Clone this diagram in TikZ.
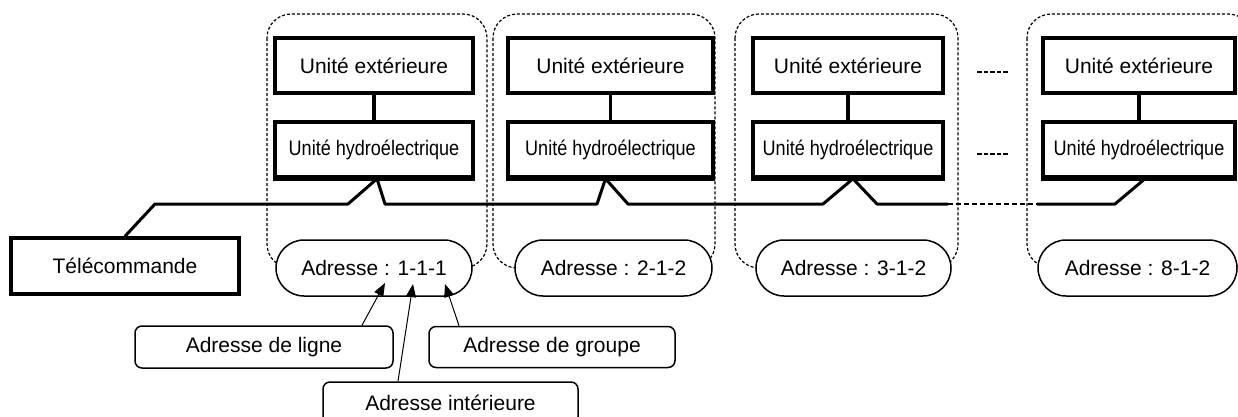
\documentclass[tikz,border=0pt]{standalone}
\usepackage{fontspec}
\setmainfont{Liberation Sans}
\usepackage{graphicx}
\usetikzlibrary{arrows.meta,calc}
\begin{document}
\begin{tikzpicture}[x=1pt,y=-1pt,
  txt/.style={font=\fontsize{21}{25}\selectfont},
  unitbox/.style={txt,draw,fill=white,line width=3.5pt,minimum height=55pt,inner sep=0pt},
  linkln/.style={line width=3.5pt},
  pillbox/.style={txt,draw,fill=white,line width=1.5pt,rounded corners=28pt,minimum height=56pt,inner sep=0pt},
  grpbox/.style={line width=1.2pt,dash pattern=on 3pt off 2pt,rounded corners=24pt},
  busln/.style={line width=3pt,line join=round},
  busdash/.style={line width=2pt,dash pattern=on 5pt off 3pt},
  sepdash/.style={line width=2pt,dash pattern=on 4.5pt off 2pt},
  lblbox/.style={txt,draw,fill=white,line width=1.5pt,rounded corners=7pt,inner sep=0pt},
  ptr/.style={line width=1pt,-{Triangle[length=13pt,width=10pt]}},
]
\useasboundingbox (0,0) rectangle (1238,416);
\clip (0,0) rectangle (1238,416);
\fill[white] (0,0) rectangle (1238,416);

% group outlines
\draw[grpbox] (267,14) rectangle (487,268);
\draw[grpbox] (493,14) rectangle (715,268);
\draw[grpbox] (735,14) rectangle (958,268);
\draw[grpbox] (1027,14) rectangle (1252,268);

% remote
\node[unitbox,minimum width=228pt,minimum height=56pt] (tele) at (125,266) {Télécommande};

% units
\node[unitbox,minimum width=198pt] (e1) at (374,65.5) {Unité extérieure};
\node[unitbox,minimum width=198pt] (h1) at (374,149.5) {\scalebox{0.86}[1]{Unité hydroélectrique}};
\node[unitbox,minimum width=205pt] (e2) at (610.5,65.5) {Unité extérieure};
\node[unitbox,minimum width=205pt] (h2) at (610.5,149.5) {\scalebox{0.86}[1]{Unité hydroélectrique}};
\node[unitbox,minimum width=190pt] (e3) at (848,65.5) {Unité extérieure};
\node[unitbox,minimum width=190pt] (h3) at (848,149.5) {\scalebox{0.86}[1]{Unité hydroélectrique}};
\node[unitbox,minimum width=192pt] (e4) at (1139,65.5) {Unité extérieure};
\node[unitbox,minimum width=192pt] (h4) at (1139,149.5) {\scalebox{0.86}[1]{Unité hydroélectrique}};

\foreach \i in {1,2,3,4} \draw[linkln] (e\i.south) -- (h\i.north);

% bus
\coordinate (c1) at ($(h1.south)+(3,0)$);
\coordinate (c2) at ($(h2.south)+(-5,0)$);
\coordinate (c3) at ($(h3.south)+(5,0)$);
\coordinate (c4) at ($(h4.south)+(6,0)$);
\coordinate (ds) at (948,204);
\coordinate (de) at (1037,204);
\draw[busln] (tele.north) -- (155,204) -- (348,204) -- (c1) -- (385,204) -- (597,204) -- (c2)
  -- (628,204) -- (823,204) -- (c3) -- (877,204) -- (ds);
\draw[busdash] (ds) -- (de);
\draw[busln] (de) -- (1115,204) -- (c4);
% keep the unit boxes' lower edges crisp over the bus peaks
\foreach \i in {1,2,3,4} \draw[line width=3.5pt] (h\i.south west) -- (h\i.south east);

% separators
\coordinate (s1a) at (977,72); \coordinate (s1b) at (1009,72);
\coordinate (s2a) at (977,154); \coordinate (s2b) at (1009,154);
\draw[sepdash] (s1a) -- (s1b);
\draw[sepdash] (s2a) -- (s2b);

% address pills
\node[pillbox,minimum width=196pt] (p1) at (374,268) {Adresse : 1-1-1};
\node[pillbox,minimum width=197pt] (p2) at (613.5,268) {Adresse : 2-1-2};
\node[pillbox,minimum width=195pt] (p3) at (853.5,268) {Adresse : 3-1-2};
\node[pillbox,minimum width=199pt] (p4) at (1137.5,268) {Adresse : 8-1-2};

% labels
\node[lblbox,minimum width=258pt,minimum height=42pt] (ligne) at (264,347) {Adresse de ligne};
\node[lblbox,minimum width=246pt,minimum height=41pt] (groupe) at (552,347) {Adresse de groupe};
\node[lblbox,minimum width=255pt,minimum height=42pt] (inter) at (450.5,403) {Adresse intérieure};

\coordinate (tl) at (385,283);
\coordinate (ti) at (413,284);
\coordinate (tg) at (445,284);
\draw[ptr] (ligne.north -| 362,0) -- (tl);
\draw[ptr] (inter.north -| 398,0) -- (ti);
\draw[ptr] (groupe.north -| 459,0) -- (tg);
\end{tikzpicture}
\end{document}
